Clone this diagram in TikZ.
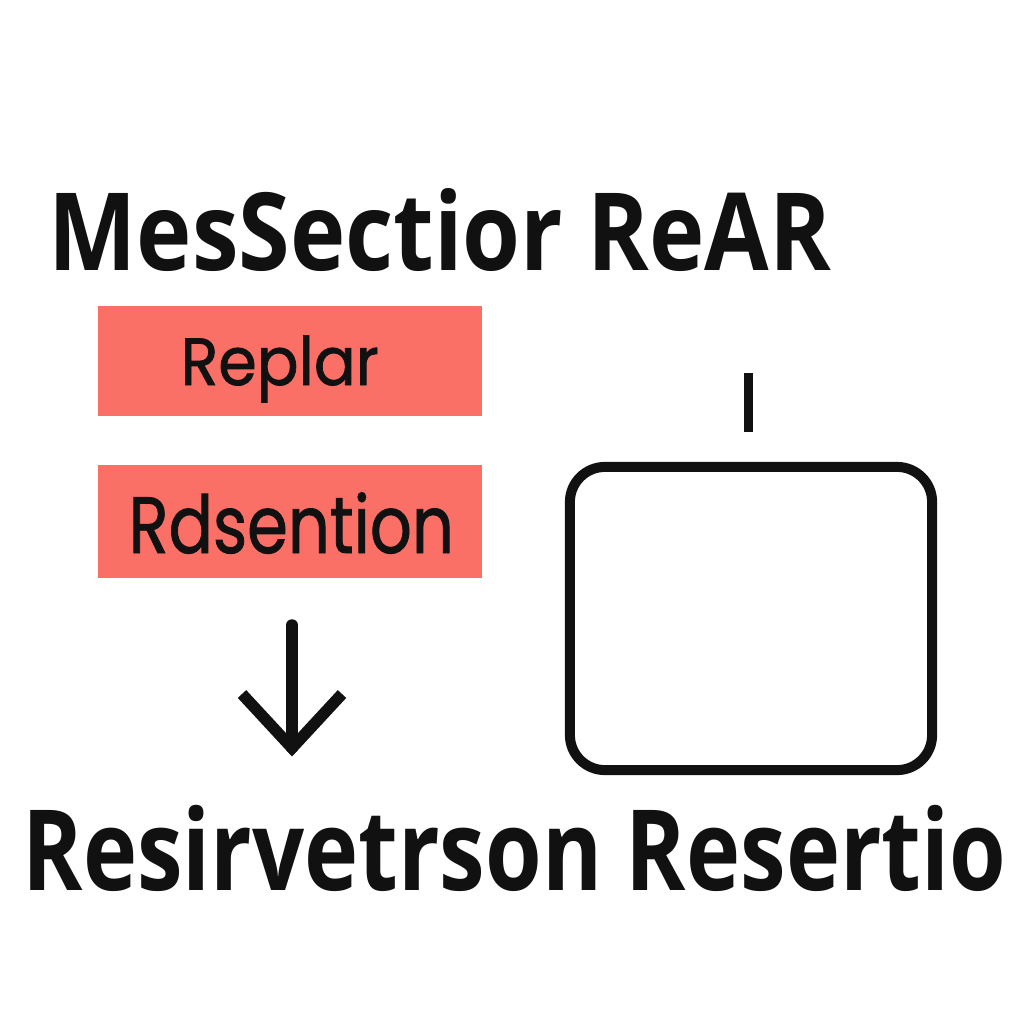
\documentclass[tikz,border=0pt]{standalone}
\usepackage{fontspec}
\setmainfont{Open Sans}
\newfontfamily\boxfont[FakeBold=1.2]{Poppins}
\definecolor{boxred}{HTML}{FA6F66}
\definecolor{ink}{HTML}{111111}
\begin{document}
\begin{tikzpicture}[x=0.01cm,y=-0.01cm,
  redbox/.style={fill=boxred,draw=none,inner sep=0,minimum width=3.84cm},
  heading/.style={font=\fontsize{30.7}{34}\selectfont\bfseries,text=ink,anchor=base west,inner sep=0},
  boxtext/.style={text=ink,anchor=base west,inner sep=0},
  thickline/.style={draw=ink,line width=0.115cm,line cap=round,line join=round}]
\fill[white] (0,0) rectangle (1024,1024);
\useasboundingbox (0,0) rectangle (1024,1024);
% title
\node[heading] (title) at (48,270) {\resizebox{7.82cm}{\height}{MesSectior ReAR}};
% red boxes
\node[redbox,minimum height=1.10cm] (b1) at (290,361) {};
\node[boxtext,font=\boxfont\fontsize{19}{22}\selectfont] (t1) at (180,385) {\resizebox{1.98cm}{\height}{Replar}};
\node[redbox,minimum height=1.13cm] (b2) at (290,521.5) {};
\node[boxtext,font=\boxfont\fontsize{22.7}{26}\selectfont] (t2) at (128,553) {\resizebox{3.25cm}{\height}{Rdsention}};
% down arrow
\coordinate (a1) at (292,625);
\coordinate (a2) at (292,748);
\draw[thickline] (a1) -- (a2);
\draw[thickline,line cap=butt,line join=miter] (242,694) -- (a2) -- (342,694);
% short line and rounded box
\coordinate (s1) at (748,373);
\coordinate (s2) at (748,432);
\draw[draw=ink,line width=0.09cm] (s1) -- (s2);
\node[draw=ink,line width=0.1cm,rounded corners=0.35cm,inner sep=0,minimum width=3.62cm,minimum height=3.03cm] (rb) at (751,618.5) {};
% bottom text
\node[heading,font=\fontsize{31.9}{36}\selectfont\bfseries] (bottom) at (22,890) {\resizebox{9.83cm}{\height}{Resirvetrson Resertio}};
\end{tikzpicture}
\end{document}
